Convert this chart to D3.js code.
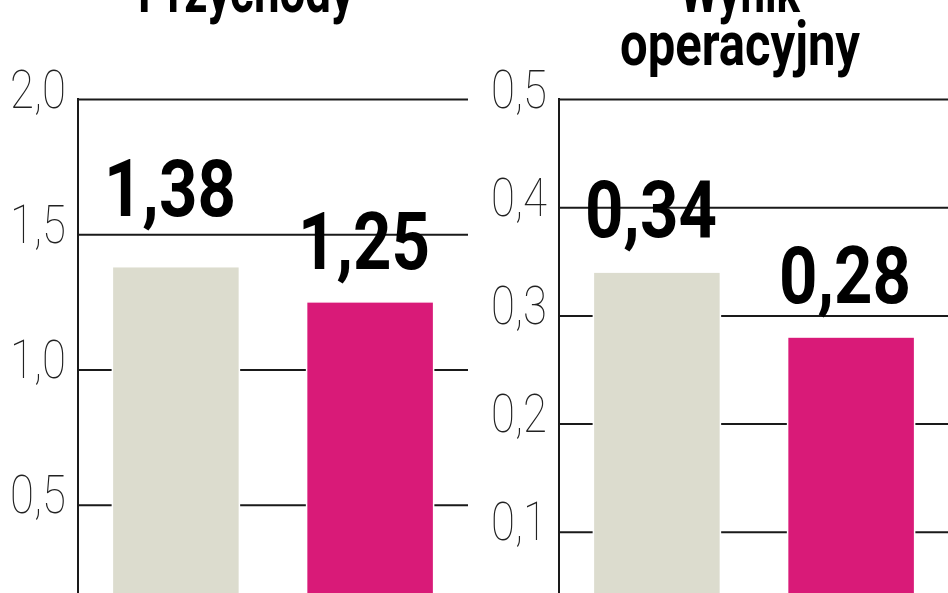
<!DOCTYPE html>
<html><head><meta charset="utf-8">
<script src="https://cdn.jsdelivr.net/npm/d3@7"></script>
<style>
html,body{margin:0;padding:0;background:#fff;overflow:hidden}
svg{display:block}
</style></head>
<body>
<script>
// ---- data ----
const periods = ["poprzedni", "bieżący"];
const revenueTitle = ["Przychody"];
const revenueValues = [1.38, 1.25];
const revenueTicks = [0.5, 1.0, 1.5, 2.0];
const revenueMax = 2.0;
const operatingTitle = ["Wynik", "operacyjny"];
const operatingValues = [0.34, 0.28];
const operatingTicks = [0.1, 0.2, 0.3, 0.4, 0.5];
const operatingMax = 0.5;
const barColors = ["#dcdcce", "#d91a78"];

// ---- layout ----
const W = 948, H = 593;
const plotTop = 99, plotBottom = 640, plotWidth = 390;
const panels = [
  {title: revenueTitle, values: revenueValues, ticks: revenueTicks, max: revenueMax,
   x0: 78, titleX: 246, labelLift: [51, 33]},
  {title: operatingTitle, values: operatingValues, ticks: operatingTicks, max: operatingMax,
   x0: 559, titleX: 740, labelLift: [35, 34]}
];
const fmt = v => d3.format(".1f")(v).replace(".", ",");
const fmt2 = v => d3.format(".2f")(v).replace(".", ",");

const svg = d3.select("body").append("svg").attr("width", W).attr("height", H);

panels.forEach(p => {
  const g = svg.append("g").attr("transform", `translate(${p.x0},0)`);
  const y = d3.scaleLinear().domain([0, p.max]).range([plotBottom, plotTop]);
  const x = d3.scaleBand().domain(periods).range([0, plotWidth])
    .paddingInner(0.346).paddingOuter(0.177);

  // grid + tick labels
  const axis = g.append("g").call(
    d3.axisLeft(y).tickValues(p.ticks).tickSize(-plotWidth).tickPadding(12).tickFormat(fmt));
  axis.select(".domain").remove();
  axis.selectAll(".tick line").attr("stroke", "#1a1a1a").attr("stroke-width", 2);
  axis.selectAll(".tick text")
    .attr("dy", null).attr("y", 8)
    .attr("fill", "#222")
    .style("font-family", "Roboto, 'DejaVu Sans', sans-serif")
    .style("font-weight", 100)
    .style("font-size", "54px")
    .attr("textLength", 56).attr("lengthAdjust", "spacingAndGlyphs");
  axis.attr("font-size", null).attr("font-family", null);

  // vertical axis line
  g.append("line").attr("x1", 0).attr("x2", 0)
    .attr("y1", y(p.max) - 1).attr("y2", y(0))
    .attr("stroke", "#1a1a1a").attr("stroke-width", 2);

  // bars
  g.selectAll("rect.bar").data(p.values).join("rect")
    .attr("class", "bar")
    .attr("x", (d, i) => x(periods[i]))
    .attr("width", x.bandwidth())
    .attr("y", d => y(d))
    .attr("height", d => y(0) - y(d))
    .attr("fill", (d, i) => barColors[i])
    .attr("stroke", "#fff").attr("stroke-width", 1.5);

  // value labels
  g.selectAll("text.val").data(p.values).join("text")
    .attr("class", "val")
    .attr("x", (d, i) => x(periods[i]) + x.bandwidth() / 2 - 6)
    .attr("y", (d, i) => y(d) - p.labelLift[i])
    .attr("text-anchor", "middle")
    .attr("fill", "#000")
    .style("font-family", "Roboto, 'DejaVu Sans', sans-serif")
    .style("font-weight", 700)
    .style("font-size", "80px")
    .attr("textLength", 132).attr("lengthAdjust", "spacingAndGlyphs")
    .text(fmt2);

  // title (partly cut off at the top, as in the reference)
  const tg = svg.append("g");
  p.title.forEach((t, i) => {
    tg.append("text")
      .attr("x", p.titleX)
      .attr("y", 12 + 53 * i)
      .attr("text-anchor", "middle")
      .attr("fill", "#000")
      .style("font-family", "Roboto, 'DejaVu Sans', sans-serif")
      .style("font-weight", 700)
      .style("font-size", "62px")
      .attr("textLength", t.length * 24)
      .attr("lengthAdjust", "spacingAndGlyphs")
      .text(t);
  });
});
</script>
</body></html>
